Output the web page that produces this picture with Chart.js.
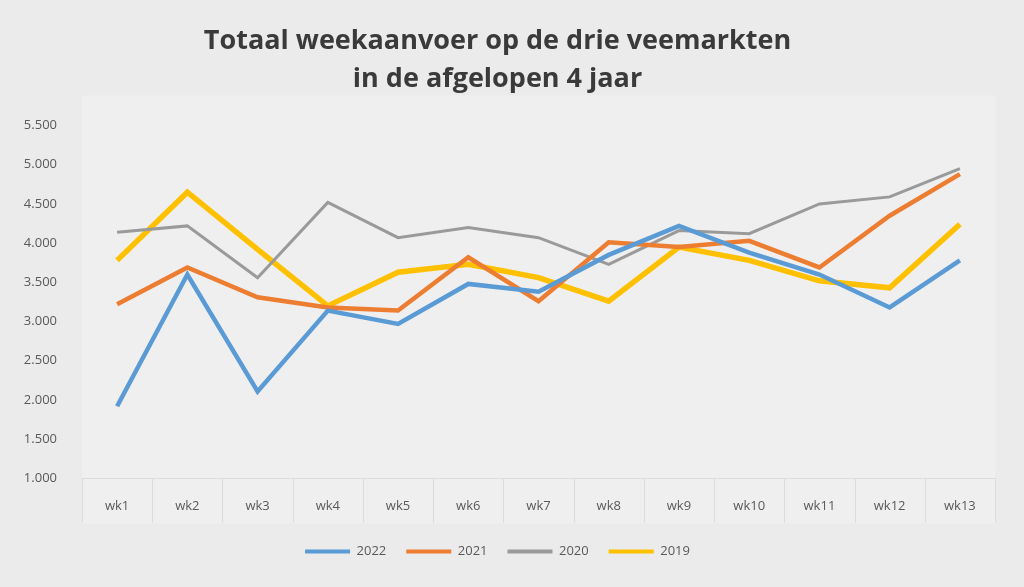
<!DOCTYPE html>
<html>
<head>
<meta charset="utf-8">
<script src="https://cdn.jsdelivr.net/npm/chart.js@4"></script>
<style>
html,body{margin:0;padding:0;background:#ebebeb;}
#wrap{width:1024px;height:587px;}
</style>
</head>
<body>
<div id="wrap"><canvas id="c" width="1024" height="587"></canvas></div>
<script>
const categories = ["wk1","wk2","wk3","wk4","wk5","wk6","wk7","wk8","wk9","wk10","wk11","wk12","wk13"];
const seriesNames = ["2022","2021","2020","2019"];
const blueValues   = [1920,3600,2110,3140,2970,3480,3380,3850,4220,3880,3600,3180,3780];
const orangeValues = [3220,3690,3310,3180,3140,3820,3260,4010,3950,4030,3690,4350,4880];
const grayValues   = [4140,4220,3560,4520,4070,4200,4070,3730,4160,4120,4500,4590,4950];
const yellowValues = [3780,4650,3920,3200,3630,3730,3560,3260,3950,3780,3520,3430,4240];
const yTickLabels = {5500:"5.500",5000:"5.000",4500:"4.500",4000:"4.000",3500:"3.500",3000:"3.000",2500:"2.500",2000:"2.000",1500:"1.500",1000:"1.000"};
const titleLines = ["Totaal weekaanvoer op de drie veemarkten","in de afgelopen 4 jaar"];

const colors = ["#5B9BD5","#ED7D31","#9a9a9a","#FFC000"];
const widths = [4.5,4.5,3,5.5];

const bgPlugin = {
  id:'bg',
  beforeDraw(chart){
    const ctx = chart.ctx;
    ctx.save();
    ctx.fillStyle = '#ebebeb';
    ctx.fillRect(0,0,chart.width,chart.height);
    ctx.fillStyle = '#efefef';
    const a = chart.chartArea;
    ctx.fillRect(a.left, a.top-30, a.right-a.left, a.bottom-a.top+75);
    ctx.restore();
  },
  afterDraw(chart){
    const x = chart.scales.x, a = chart.chartArea, ctx = chart.ctx;
    const n = chart.data.labels.length;
    const step = (x.getPixelForTick(n-1) - x.getPixelForTick(0)) / (n-1);
    ctx.save();
    ctx.strokeStyle = '#dcdcdc';
    ctx.lineWidth = 1;
    for (let i = 0; i <= n; i++) {
      const px = Math.round(x.getPixelForTick(0) - step/2 + i*step) + 0.5;
      ctx.beginPath();
      ctx.moveTo(px, a.bottom);
      ctx.lineTo(px, a.bottom + 44);
      ctx.stroke();
    }
    ctx.restore();
  }
};

const data = {
  labels: categories,
  datasets: [blueValues, orangeValues, grayValues, yellowValues].map((v,i)=>({
    label: seriesNames[i],
    data: v,
    borderColor: colors[i],
    backgroundColor: colors[i],
    borderWidth: widths[i],
    pointRadius: 0,
    tension: 0,
    fill: false
  }))
};

new Chart(document.getElementById('c'), {
  type: 'line',
  data,
  plugins: [bgPlugin],
  options: {
    responsive: false,
    animation: false,
    layout: { padding: { left: 0, right: 29, top: 0, bottom: 19 } },
    plugins: {
      title: {
        display: true,
        text: titleLines,
        color: '#3a3a3a',
        font: { family: 'Open Sans', size: 27, weight: 'bold', lineHeight: 1.38 },
        padding: { top: 23, bottom: 28 }
      },
      legend: {
        position: 'bottom',
        labels: {
          color: '#595959',
          font: { family: 'Open Sans', size: 13 },
          boxWidth: 45,
          boxHeight: 4,
          padding: 20,
          generateLabels(chart){
            return chart.data.datasets.map((d,i)=>({
              text: d.label,
              fillStyle: d.borderColor,
              strokeStyle: d.borderColor,
              lineWidth: 0,
              hidden: false,
              datasetIndex: i,
              fontColor: '#595959'
            }));
          }
        }
      },
      tooltip: { enabled: false }
    },
    scales: {
      x: {
        offset: true,
        afterFit(scale){ scale.height = scale.height - 9; },
        grid: { display: false, drawTicks: false },
        border: { display: true, color: '#dcdcdc' },
        ticks: { color: '#595959', font: { family: 'Open Sans', size: 13 }, padding: 20, maxRotation: 0, autoSkip: false }
      },
      y: {
        min: 1000, max: 5500,
        afterFit(scale){ scale.width = 82; },
        grid: { display: false, drawTicks: false },
        border: { display: false },
        ticks: {
          stepSize: 500,
          padding: 25,
          color: '#595959',
          font: { family: 'Open Sans', size: 13 },
          callback: (v)=> yTickLabels[v] !== undefined ? yTickLabels[v] : ''
        }
      }
    }
  }
});
</script>
</body>
</html>
